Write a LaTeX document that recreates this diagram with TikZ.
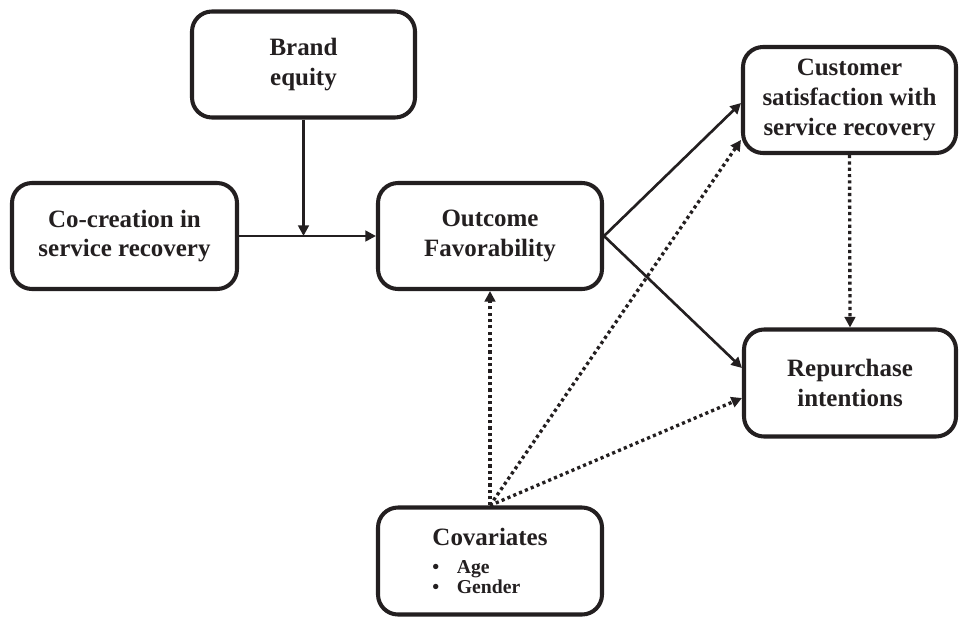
\documentclass[tikz,border=0pt]{standalone}
\usepackage{fontspec}
\setmainfont{Liberation Serif}
\usetikzlibrary{arrows.meta}
\definecolor{ink}{RGB}{35,31,32}
\tikzset{
  box/.style={
    draw=ink,
    line width=1.15pt,
    rounded corners=0.2cm,
    minimum width=2.24cm,
    minimum height=1.06cm,
    inner sep=0pt,
    align=center,
    text=ink,
    font=\bfseries\fontsize{7.1}{8.5}\selectfont
  },
  link/.style={
    draw=ink,
    line width=0.75pt,
    -{Triangle[length=3pt,width=3pt]}
  },
  link-dot/.style={
    link,
    line width=0.95pt,
    dash pattern=on 0.9pt off 0.9pt
  }
}
\newcommand{\covitem}[1]{{\fontsize{5.6}{5.8}\selectfont\textbullet\hspace{5pt}#1}}

\begin{document}
\begin{tikzpicture}
  \useasboundingbox (0,0) rectangle (9.59,6.17);

  % --- boxes ---
  \node[box, minimum width=2.23cm] (brand) at (3.035,5.525) {Brand\\equity};
  \node[box, minimum width=2.25cm] (cocre) at (1.245,3.81) {Co-creation in\\service recovery};
  \node[box] (outcome) at (4.90,3.81) {Outcome\\Favorability};
  \node[box, minimum width=2.13cm] (satis) at (8.495,5.17) {Customer\\satisfaction with\\service recovery};
  \node[box, minimum width=2.12cm, minimum height=1.07cm] (repurch) at (8.50,2.34) {Repurchase\\intentions};
  \node[box, minimum height=1.07cm, align=left] (covar) at (4.90,0.56)
    {Covariates\\[-0.6pt]\covitem{Age}\\[-2.6pt]\covitem{Gender}};

  % --- moderation of brand equity ---
  \coordinate (meet) at (brand.south |- cocre.east);
  \draw[link] (cocre.east) -- (outcome.west);
  \draw[link] (brand.south) -- (meet);

  % --- direct paths ---
  \draw[link] (outcome.east) -- ([yshift=-0.3mm]satis.west);
  \draw[link] (outcome.east) -- ([yshift=1.5mm]repurch.west);

  % --- covariates and mediation (dotted) ---
  \draw[link-dot] (covar.north) -- (outcome.south);
  \draw[link-dot] (covar.north) -- ([yshift=-4mm]satis.west);
  \draw[link-dot] (covar.north) -- ([yshift=-1.5mm]repurch.west);
  \draw[link-dot] (satis.south) -- (repurch.north);
\end{tikzpicture}
\end{document}
